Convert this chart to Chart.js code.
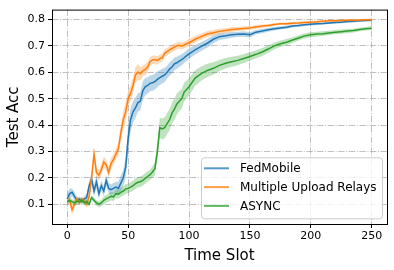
<!DOCTYPE html>
<html>
<head>
<meta charset="utf-8">
<script src="https://cdn.jsdelivr.net/npm/chart.js@4.4.1/dist/chart.umd.min.js"></script>
<style>
  html, body { margin: 0; padding: 0; background: #fff; }
  canvas { display: block; }
</style>
</head>
<body>
<canvas id="grafico" width="394" height="270"></canvas>
<script>
// Datos
const tiempos = [0,2,4,6,8,10,12,14,16,18,20,22,24,26,28,30,32,34,36,38,40,42,44,46,48,50,52,54,56,58,60,
  62,64,66,68,70,72,74,76,78,80,82,84,86,88,90,92,94,96,98,100,
  105,110,115,120,125,130,135,140,145,150,155,160,165,170,175,180,185,190,195,200,205,210,215,220,225,230,235,240,245,250];

const fedMobile = [0.12,0.14,0.145,0.13,0.115,0.12,0.11,0.12,0.125,
  0.17,0.195,0.15,0.185,0.14,0.17,0.15,0.19,0.16,0.155,0.16,0.165,0.16,
  0.18,0.2,0.24,0.35,0.42,0.45,0.465,0.485,0.49,
  0.53,0.545,0.55,0.558,0.56,0.565,0.573,0.58,0.585,0.59,0.6,0.612,0.62,0.632,0.636,0.642,0.648,0.655,0.663,0.67,
  0.685,0.698,0.71,0.725,0.735,0.738,0.742,0.744,0.745,0.742,0.752,0.756,0.761,0.765,0.768,0.771,0.775,0.777,0.78,0.782,0.784,0.785,0.787,0.789,0.79,0.792,0.793,0.795,0.796,0.797];
const fedMobileStd = [0.02,0.02,0.015,0.015,0.01,0.01,0.01,0.01,0.015,
  0.02,0.02,0.02,0.025,0.02,0.02,0.02,0.02,0.02,0.02,0.02,0.02,0.025,
  0.03,0.03,0.04,0.05,0.045,0.04,0.038,0.035,0.035,
  0.035,0.033,0.03,0.03,0.03,0.03,0.03,0.028,0.028,0.027,0.025,0.025,0.025,0.024,0.023,0.022,0.021,0.02,0.02,0.02,
  0.018,0.017,0.016,0.015,0.013,0.012,0.011,0.01,0.01,0.01,0.008,0.008,0.007,0.007,0.006,0.006,0.005,0.005,0.005,0.005,0.005,0.004,0.004,0.004,0.004,0.004,0.004,0.004,0.004,0.004];

const relays = [0.11,0.115,0.08,0.1,0.12,0.105,0.12,0.11,0.1,
  0.13,0.2,0.29,0.22,0.21,0.23,0.26,0.25,0.22,0.255,0.27,0.29,0.31,
  0.37,0.42,0.45,0.5,0.52,0.55,0.59,0.6,0.595,
  0.605,0.61,0.62,0.64,0.647,0.648,0.645,0.652,0.655,0.672,0.678,0.685,0.69,0.695,0.7,0.702,0.7,0.704,0.708,0.712,
  0.725,0.735,0.745,0.75,0.755,0.758,0.762,0.764,0.766,0.768,0.772,0.775,0.777,0.781,0.784,0.784,0.786,0.787,0.789,0.79,0.791,0.793,0.795,0.795,0.796,0.797,0.797,0.798,0.799,0.799];
const relaysStd = [0.015,0.015,0.02,0.015,0.01,0.01,0.01,0.01,0.015,
  0.02,0.025,0.025,0.02,0.02,0.02,0.02,0.02,0.02,0.02,0.02,0.02,0.025,
  0.03,0.035,0.035,0.03,0.03,0.03,0.03,0.03,0.025,
  0.02,0.02,0.018,0.018,0.016,0.016,0.016,0.015,0.015,0.015,0.014,0.014,0.014,0.014,0.013,0.013,0.013,0.013,0.013,0.013,
  0.012,0.012,0.011,0.01,0.01,0.009,0.009,0.008,0.008,0.007,0.007,0.006,0.006,0.005,0.005,0.005,0.005,0.004,0.004,0.004,0.004,0.004,0.004,0.004,0.004,0.004,0.004,0.004,0.004,0.004];

const async = [0.11,0.115,0.11,0.105,0.11,0.11,0.115,0.105,0.11,
  0.1,0.125,0.115,0.105,0.1,0.105,0.115,0.12,0.125,0.13,0.128,0.14,0.138,
  0.145,0.15,0.158,0.16,0.165,0.17,0.178,0.183,0.185,
  0.19,0.198,0.205,0.212,0.222,0.235,0.3,0.39,0.385,0.39,0.405,0.42,0.445,0.46,0.48,0.49,0.5,0.525,0.535,0.545,
  0.578,0.595,0.607,0.615,0.626,0.634,0.64,0.645,0.652,0.66,0.668,0.677,0.688,0.7,0.708,0.714,0.722,0.73,0.738,0.742,0.745,0.746,0.749,0.752,0.754,0.756,0.758,0.762,0.765,0.767];
const asyncStd = [0.01,0.01,0.01,0.01,0.01,0.01,0.01,0.01,0.01,
  0.01,0.01,0.01,0.01,0.012,0.012,0.014,0.015,0.015,0.016,0.016,0.017,0.017,
  0.018,0.018,0.018,0.018,0.019,0.019,0.02,0.02,0.02,
  0.02,0.02,0.02,0.02,0.022,0.025,0.032,0.038,0.04,0.04,0.04,0.04,0.04,0.04,0.04,0.038,0.037,0.035,0.034,0.032,
  0.03,0.027,0.025,0.023,0.021,0.02,0.019,0.018,0.017,0.016,0.015,0.015,0.014,0.013,0.012,0.012,0.011,0.01,0.01,0.01,0.009,0.009,0.008,0.008,0.008,0.008,0.007,0.007,0.007,0.007];

const ticksX = [0, 50, 100, 150, 200, 250];
const ticksY = [0.1, 0.2, 0.3, 0.4, 0.5, 0.6, 0.7, 0.8];
const nombres = ['FedMobile', 'Multiple Upload Relays', 'ASYNC'];

// Colores de matplotlib
const colores = {
    azul: [31, 119, 180],
    naranja: [255, 127, 14],
    verde: [44, 160, 44]
};
const rgba = (c, a) => `rgba(${c[0]},${c[1]},${c[2]},${a})`;

const series = [
    { nombre: nombres[0], media: fedMobile, std: fedMobileStd, color: colores.azul },
    { nombre: nombres[1], media: relays, std: relaysStd, color: colores.naranja },
    { nombre: nombres[2], media: async, std: asyncStd, color: colores.verde }
];

// Construcción de datasets: banda inferior, banda superior (relleno), línea
const datasets = [];
series.forEach(s => {
    datasets.push({
        data: tiempos.map((t, i) => ({ x: t, y: s.media[i] - s.std[i] })),
        borderWidth: 0, pointRadius: 0, fill: false
    });
    datasets.push({
        data: tiempos.map((t, i) => ({ x: t, y: s.media[i] + s.std[i] })),
        borderWidth: 0, pointRadius: 0, fill: '-1',
        backgroundColor: rgba(s.color, 0.3)
    });
    datasets.push({
        label: s.nombre,
        data: tiempos.map((t, i) => ({ x: t, y: s.media[i] })),
        borderColor: rgba(s.color, 1), borderWidth: 1.5,
        pointRadius: 0, fill: false
    });
});
datasets.forEach((d, i) => { d.order = 100 - i; d.tension = 0; });

// Marco de los ejes
const marco = {
    id: 'marco',
    afterDraw(chart) {
        const { ctx, chartArea: ca } = chart;
        ctx.save();
        ctx.strokeStyle = '#000';
        ctx.lineWidth = 1;
        ctx.strokeRect(ca.left + 0.5, ca.top + 0.5, ca.right - ca.left, ca.bottom - ca.top);
        ctx.restore();
    }
};

// Leyenda dentro del área (abajo a la derecha)
const leyenda = {
    id: 'leyenda',
    afterDraw(chart) {
        const { ctx, chartArea: ca } = chart;
        const ancho = 181, alto = 61;
        const x = ca.right - 5 - ancho, y = ca.bottom - 5.7 - alto;
        ctx.save();
        ctx.beginPath();
        ctx.roundRect(x + 0.5, y + 0.5, ancho, alto, 3);
        ctx.fillStyle = 'rgba(255,255,255,0.8)';
        ctx.fill();
        ctx.strokeStyle = '#cccccc';
        ctx.lineWidth = 1;
        ctx.stroke();
        ctx.font = '12px "DejaVu Sans"';
        ctx.textBaseline = 'middle';
        ctx.textAlign = 'left';
        series.forEach((s, i) => {
            const yc = y + 11 + i * 18.8;
            ctx.strokeStyle = rgba(s.color, 0.75);
            ctx.lineWidth = 2;
            ctx.beginPath();
            ctx.moveTo(x + 3, yc);
            ctx.lineTo(x + 28, yc);
            ctx.stroke();
            ctx.fillStyle = '#000';
            ctx.fillText(s.nombre, x + 39, yc + 0.5);
        });
        ctx.restore();
    }
};

Chart.defaults.font.family = '"DejaVu Sans"';
Chart.defaults.color = '#000';

const grilla = {
    color: '#b0b0b0',
    lineWidth: 0.8,
    tickColor: '#000',
    tickWidth: 1,
    tickLength: 4
};

new Chart(document.getElementById('grafico'), {
    type: 'line',
    data: { datasets },
    options: {
        responsive: false,
        animation: false,
        devicePixelRatio: 1,
        layout: { padding: { top: 6, right: 7, left: 0, bottom: 0 } },
        plugins: { legend: { display: false }, tooltip: { enabled: false } },
        scales: {
            x: {
                type: 'linear',
                min: -12.5, max: 262.5,
                afterBuildTicks: (escala) => { escala.ticks = ticksX.map(v => ({ value: v })); },
                afterFit: (escala) => { escala.height = 46; },
                ticks: { font: { size: 11 }, padding: 2, maxRotation: 0, callback: (v) => String(v) },
                grid: grilla,
                border: { display: false, dash: [6.4, 1.6, 1, 1.6] },
                title: { display: true, text: 'Time Slot', font: { size: 15 }, padding: { top: 0, bottom: 5 } }
            },
            y: {
                type: 'linear',
                min: 0.025, max: 0.8375,
                afterBuildTicks: (escala) => { escala.ticks = ticksY.map(v => ({ value: v })); },
                afterFit: (escala) => { escala.width = 52; },
                ticks: { font: { size: 11 }, padding: 3, callback: (v) => v.toFixed(1) },
                grid: grilla,
                border: { display: false, dash: [6.4, 1.6, 1, 1.6] },
                title: { display: true, text: 'Test Acc', font: { size: 15 }, padding: { top: 5, bottom: 0 } }
            }
        }
    },
    plugins: [marco, leyenda]
});
</script>
</body>
</html>
